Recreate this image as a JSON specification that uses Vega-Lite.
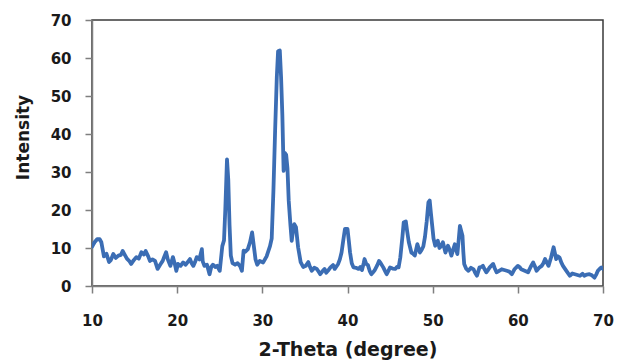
{
  "$schema": "https://vega.github.io/schema/vega-lite/v6.json",
  "width": 511,
  "height": 266,
  "autosize": {"type": "none"},
  "padding": {"left": 92, "top": 20, "right": 14, "bottom": 76},
  "background": "white",
  "config": {
    "view": {"stroke": "#3a3a3a", "strokeWidth": 1.5},
    "axis": {"grid": false}
  },
  "data": {
    "values": [
      {"theta": 10.0, "intensity": 10.3}, {"theta": 10.3, "intensity": 11.5}, {"theta": 10.6, "intensity": 12.3},
      {"theta": 10.9, "intensity": 12.3}, {"theta": 11.1, "intensity": 11.5}, {"theta": 11.4, "intensity": 7.8},
      {"theta": 11.7, "intensity": 8.5}, {"theta": 12.0, "intensity": 6.3}, {"theta": 12.2, "intensity": 6.8},
      {"theta": 12.5, "intensity": 8.4}, {"theta": 12.8, "intensity": 7.4}, {"theta": 13.1, "intensity": 8.0},
      {"theta": 13.4, "intensity": 8.2}, {"theta": 13.6, "intensity": 9.2}, {"theta": 13.9, "intensity": 8.0},
      {"theta": 14.1, "intensity": 7.2}, {"theta": 14.4, "intensity": 6.5}, {"theta": 14.6, "intensity": 5.8},
      {"theta": 14.9, "intensity": 6.8}, {"theta": 15.2, "intensity": 7.6}, {"theta": 15.5, "intensity": 7.2},
      {"theta": 15.8, "intensity": 8.9}, {"theta": 16.1, "intensity": 8.3}, {"theta": 16.3, "intensity": 9.2},
      {"theta": 16.6, "intensity": 7.8}, {"theta": 16.8, "intensity": 6.6}, {"theta": 17.1, "intensity": 7.0},
      {"theta": 17.4, "intensity": 6.6}, {"theta": 17.7, "intensity": 4.5}, {"theta": 18.0, "intensity": 5.6},
      {"theta": 18.3, "intensity": 6.6}, {"theta": 18.5, "intensity": 7.8}, {"theta": 18.7, "intensity": 8.9},
      {"theta": 18.9, "intensity": 7.0}, {"theta": 19.2, "intensity": 5.3}, {"theta": 19.5, "intensity": 7.6},
      {"theta": 19.7, "intensity": 6.0}, {"theta": 19.9, "intensity": 4.0}, {"theta": 20.1, "intensity": 5.8},
      {"theta": 20.4, "intensity": 5.3}, {"theta": 20.7, "intensity": 6.2}, {"theta": 21.0, "intensity": 5.6},
      {"theta": 21.3, "intensity": 6.5}, {"theta": 21.5, "intensity": 7.1}, {"theta": 21.7, "intensity": 6.0},
      {"theta": 21.9, "intensity": 5.3}, {"theta": 22.1, "intensity": 6.3}, {"theta": 22.3, "intensity": 7.6},
      {"theta": 22.6, "intensity": 7.0}, {"theta": 22.9, "intensity": 9.7}, {"theta": 23.0, "intensity": 6.5},
      {"theta": 23.2, "intensity": 5.3}, {"theta": 23.5, "intensity": 5.6}, {"theta": 23.8, "intensity": 3.1},
      {"theta": 24.0, "intensity": 5.0}, {"theta": 24.2, "intensity": 5.6}, {"theta": 24.5, "intensity": 5.0},
      {"theta": 24.7, "intensity": 5.3}, {"theta": 25.0, "intensity": 4.0}, {"theta": 25.3, "intensity": 10.5},
      {"theta": 25.5, "intensity": 12.0}, {"theta": 25.65, "intensity": 20.0}, {"theta": 25.85, "intensity": 33.3},
      {"theta": 26.0, "intensity": 28.0}, {"theta": 26.15, "intensity": 16.0}, {"theta": 26.3, "intensity": 8.0},
      {"theta": 26.5, "intensity": 6.0}, {"theta": 26.8, "intensity": 5.6}, {"theta": 27.1, "intensity": 6.0},
      {"theta": 27.4, "intensity": 5.2}, {"theta": 27.6, "intensity": 4.0}, {"theta": 27.8, "intensity": 9.3},
      {"theta": 28.0, "intensity": 9.0}, {"theta": 28.3, "intensity": 9.7}, {"theta": 28.55, "intensity": 11.5},
      {"theta": 28.8, "intensity": 14.1}, {"theta": 29.0, "intensity": 10.5}, {"theta": 29.2, "intensity": 7.0},
      {"theta": 29.4, "intensity": 5.6}, {"theta": 29.7, "intensity": 6.6}, {"theta": 30.1, "intensity": 6.2},
      {"theta": 30.5, "intensity": 7.8}, {"theta": 30.9, "intensity": 10.5}, {"theta": 31.1, "intensity": 12.5},
      {"theta": 31.3, "intensity": 25.0}, {"theta": 31.5, "intensity": 40.8}, {"theta": 31.7, "intensity": 55.0},
      {"theta": 31.85, "intensity": 61.8}, {"theta": 32.05, "intensity": 62.0}, {"theta": 32.2, "intensity": 55.0},
      {"theta": 32.35, "intensity": 45.0}, {"theta": 32.5, "intensity": 30.3}, {"theta": 32.65, "intensity": 35.0},
      {"theta": 32.8, "intensity": 34.5}, {"theta": 32.95, "intensity": 31.0}, {"theta": 33.1, "intensity": 22.4},
      {"theta": 33.3, "intensity": 16.0}, {"theta": 33.45, "intensity": 11.9}, {"theta": 33.6, "intensity": 14.5},
      {"theta": 33.75, "intensity": 16.3}, {"theta": 33.95, "intensity": 15.5}, {"theta": 34.2, "intensity": 10.2},
      {"theta": 34.5, "intensity": 6.3}, {"theta": 34.8, "intensity": 5.0}, {"theta": 35.1, "intensity": 5.3},
      {"theta": 35.4, "intensity": 6.3}, {"theta": 35.6, "intensity": 5.0}, {"theta": 35.8, "intensity": 4.0},
      {"theta": 36.1, "intensity": 4.8}, {"theta": 36.4, "intensity": 4.5}, {"theta": 36.6, "intensity": 3.8},
      {"theta": 36.8, "intensity": 3.1}, {"theta": 37.1, "intensity": 4.0}, {"theta": 37.3, "intensity": 4.5},
      {"theta": 37.5, "intensity": 3.5}, {"theta": 37.7, "intensity": 4.0}, {"theta": 38.0, "intensity": 4.9},
      {"theta": 38.3, "intensity": 5.5}, {"theta": 38.5, "intensity": 4.5}, {"theta": 38.9, "intensity": 5.8},
      {"theta": 39.1, "intensity": 7.0}, {"theta": 39.3, "intensity": 8.8}, {"theta": 39.5, "intensity": 12.0},
      {"theta": 39.7, "intensity": 15.0}, {"theta": 40.0, "intensity": 15.0}, {"theta": 40.15, "intensity": 12.0},
      {"theta": 40.3, "intensity": 8.8}, {"theta": 40.5, "intensity": 6.0}, {"theta": 40.7, "intensity": 4.9},
      {"theta": 41.0, "intensity": 4.8}, {"theta": 41.3, "intensity": 4.5}, {"theta": 41.5, "intensity": 5.0},
      {"theta": 41.7, "intensity": 4.2}, {"theta": 41.9, "intensity": 6.0}, {"theta": 42.0, "intensity": 7.1},
      {"theta": 42.2, "intensity": 5.8}, {"theta": 42.4, "intensity": 5.5}, {"theta": 42.6, "intensity": 4.0},
      {"theta": 42.8, "intensity": 3.1}, {"theta": 43.0, "intensity": 3.6}, {"theta": 43.2, "intensity": 4.2},
      {"theta": 43.5, "intensity": 5.5}, {"theta": 43.7, "intensity": 6.6}, {"theta": 43.9, "intensity": 6.0},
      {"theta": 44.2, "intensity": 4.9}, {"theta": 44.4, "intensity": 4.0}, {"theta": 44.6, "intensity": 3.1},
      {"theta": 44.8, "intensity": 4.0}, {"theta": 45.0, "intensity": 4.9}, {"theta": 45.3, "intensity": 4.6},
      {"theta": 45.6, "intensity": 4.5}, {"theta": 45.8, "intensity": 5.0}, {"theta": 46.0, "intensity": 4.9},
      {"theta": 46.2, "intensity": 7.5}, {"theta": 46.3, "intensity": 9.7}, {"theta": 46.45, "intensity": 13.0},
      {"theta": 46.6, "intensity": 16.7}, {"theta": 46.85, "intensity": 17.0}, {"theta": 47.0, "intensity": 14.5},
      {"theta": 47.2, "intensity": 11.5}, {"theta": 47.5, "intensity": 8.8}, {"theta": 47.7, "intensity": 8.5},
      {"theta": 47.9, "intensity": 8.0}, {"theta": 48.05, "intensity": 9.5}, {"theta": 48.2, "intensity": 11.0},
      {"theta": 48.35, "intensity": 10.0}, {"theta": 48.5, "intensity": 8.8}, {"theta": 48.7, "intensity": 9.5},
      {"theta": 48.9, "intensity": 10.4}, {"theta": 49.1, "intensity": 13.0}, {"theta": 49.3, "intensity": 17.0},
      {"theta": 49.5, "intensity": 22.0}, {"theta": 49.65, "intensity": 22.5}, {"theta": 49.8, "intensity": 19.0},
      {"theta": 49.95, "intensity": 15.8}, {"theta": 50.1, "intensity": 12.5}, {"theta": 50.3, "intensity": 10.6},
      {"theta": 50.6, "intensity": 11.9}, {"theta": 50.8, "intensity": 10.0}, {"theta": 51.0, "intensity": 10.5},
      {"theta": 51.2, "intensity": 11.5}, {"theta": 51.5, "intensity": 8.8}, {"theta": 51.8, "intensity": 10.6},
      {"theta": 52.0, "intensity": 9.5}, {"theta": 52.2, "intensity": 8.0}, {"theta": 52.4, "intensity": 9.5},
      {"theta": 52.6, "intensity": 11.0}, {"theta": 52.9, "intensity": 8.4}, {"theta": 53.05, "intensity": 12.0},
      {"theta": 53.2, "intensity": 15.8}, {"theta": 53.35, "intensity": 14.5}, {"theta": 53.5, "intensity": 13.2},
      {"theta": 53.6, "intensity": 9.0}, {"theta": 53.7, "intensity": 5.8}, {"theta": 53.95, "intensity": 4.5},
      {"theta": 54.2, "intensity": 4.0}, {"theta": 54.5, "intensity": 4.8}, {"theta": 54.8, "intensity": 4.4},
      {"theta": 55.0, "intensity": 3.4}, {"theta": 55.2, "intensity": 2.7}, {"theta": 55.5, "intensity": 4.9},
      {"theta": 55.7, "intensity": 5.0}, {"theta": 55.9, "intensity": 5.3}, {"theta": 56.1, "intensity": 4.4},
      {"theta": 56.3, "intensity": 3.6}, {"theta": 56.5, "intensity": 4.2}, {"theta": 56.7, "intensity": 4.9},
      {"theta": 57.1, "intensity": 5.8}, {"theta": 57.3, "intensity": 4.6}, {"theta": 57.5, "intensity": 3.6},
      {"theta": 57.8, "intensity": 4.0}, {"theta": 58.1, "intensity": 4.4}, {"theta": 58.4, "intensity": 4.2},
      {"theta": 58.7, "intensity": 4.0}, {"theta": 59.0, "intensity": 3.8}, {"theta": 59.3, "intensity": 3.1},
      {"theta": 59.6, "intensity": 4.4}, {"theta": 60.0, "intensity": 5.3}, {"theta": 60.2, "intensity": 5.0},
      {"theta": 60.4, "intensity": 4.4}, {"theta": 60.8, "intensity": 4.0}, {"theta": 61.2, "intensity": 3.6},
      {"theta": 61.5, "intensity": 5.0}, {"theta": 61.8, "intensity": 6.2}, {"theta": 62.0, "intensity": 5.2},
      {"theta": 62.2, "intensity": 4.0}, {"theta": 62.5, "intensity": 4.8}, {"theta": 62.8, "intensity": 5.3},
      {"theta": 63.0, "intensity": 6.0}, {"theta": 63.2, "intensity": 7.1}, {"theta": 63.4, "intensity": 6.2},
      {"theta": 63.6, "intensity": 5.3}, {"theta": 63.9, "intensity": 7.5}, {"theta": 64.2, "intensity": 10.2},
      {"theta": 64.5, "intensity": 7.1}, {"theta": 64.7, "intensity": 7.8}, {"theta": 64.9, "intensity": 7.5},
      {"theta": 65.1, "intensity": 6.2}, {"theta": 65.3, "intensity": 5.3}, {"theta": 65.7, "intensity": 4.0},
      {"theta": 66.1, "intensity": 2.7}, {"theta": 66.4, "intensity": 3.3}, {"theta": 66.7, "intensity": 3.1},
      {"theta": 67.0, "intensity": 2.9}, {"theta": 67.3, "intensity": 2.7}, {"theta": 67.6, "intensity": 3.2},
      {"theta": 67.8, "intensity": 2.7}, {"theta": 68.1, "intensity": 3.0}, {"theta": 68.4, "intensity": 3.1},
      {"theta": 68.7, "intensity": 2.8}, {"theta": 69.0, "intensity": 2.2}, {"theta": 69.2, "intensity": 3.0},
      {"theta": 69.4, "intensity": 4.0}, {"theta": 69.6, "intensity": 4.5}, {"theta": 69.8, "intensity": 4.9},
      {"theta": 70.0, "intensity": 4.5}
    ]
  },
  "mark": {"type": "line", "color": "#3b6db4", "strokeWidth": 3.8, "strokeJoin": "round", "strokeCap": "round", "clip": true},
  "encoding": {
    "x": {
      "field": "theta",
      "type": "quantitative",
      "scale": {"domain": [10, 70], "nice": false, "zero": false},
      "axis": {
        "title": "2-Theta (degree)",
        "values": [10, 20, 30, 40, 50, 60, 70],
        "format": "d",
        "domainColor": "#7f7f7f",
        "domainWidth": 1.5,
        "tickColor": "#7f7f7f",
        "tickWidth": 1.5,
        "tickSize": 7,
        "labelFont": "DejaVu Sans",
        "labelFontWeight": "bold",
        "labelFontSize": 15,
        "labelColor": "#1a1a1a",
        "labelPadding": 20,
        "labelFlush": false,
        "titleFont": "DejaVu Sans",
        "titleFontWeight": "bold",
        "titleFontSize": 19,
        "titleColor": "#1a1a1a",
        "titlePadding": 12
      }
    },
    "y": {
      "field": "intensity",
      "type": "quantitative",
      "scale": {"domain": [0, 70], "nice": false},
      "axis": {
        "title": "Intensity",
        "values": [0, 10, 20, 30, 40, 50, 60, 70],
        "domainColor": "#7f7f7f",
        "domainWidth": 1.5,
        "tickColor": "#7f7f7f",
        "tickWidth": 1.5,
        "tickSize": 7,
        "labelFont": "DejaVu Sans",
        "labelFontWeight": "bold",
        "labelFontSize": 15,
        "labelColor": "#1a1a1a",
        "labelPadding": 14,
        "labelFlush": false,
        "titleFont": "DejaVu Sans",
        "titleFontWeight": "bold",
        "titleFontSize": 17,
        "titleColor": "#1a1a1a",
        "titleX": -60,
        "titleY": 117
      }
    }
  }
}
